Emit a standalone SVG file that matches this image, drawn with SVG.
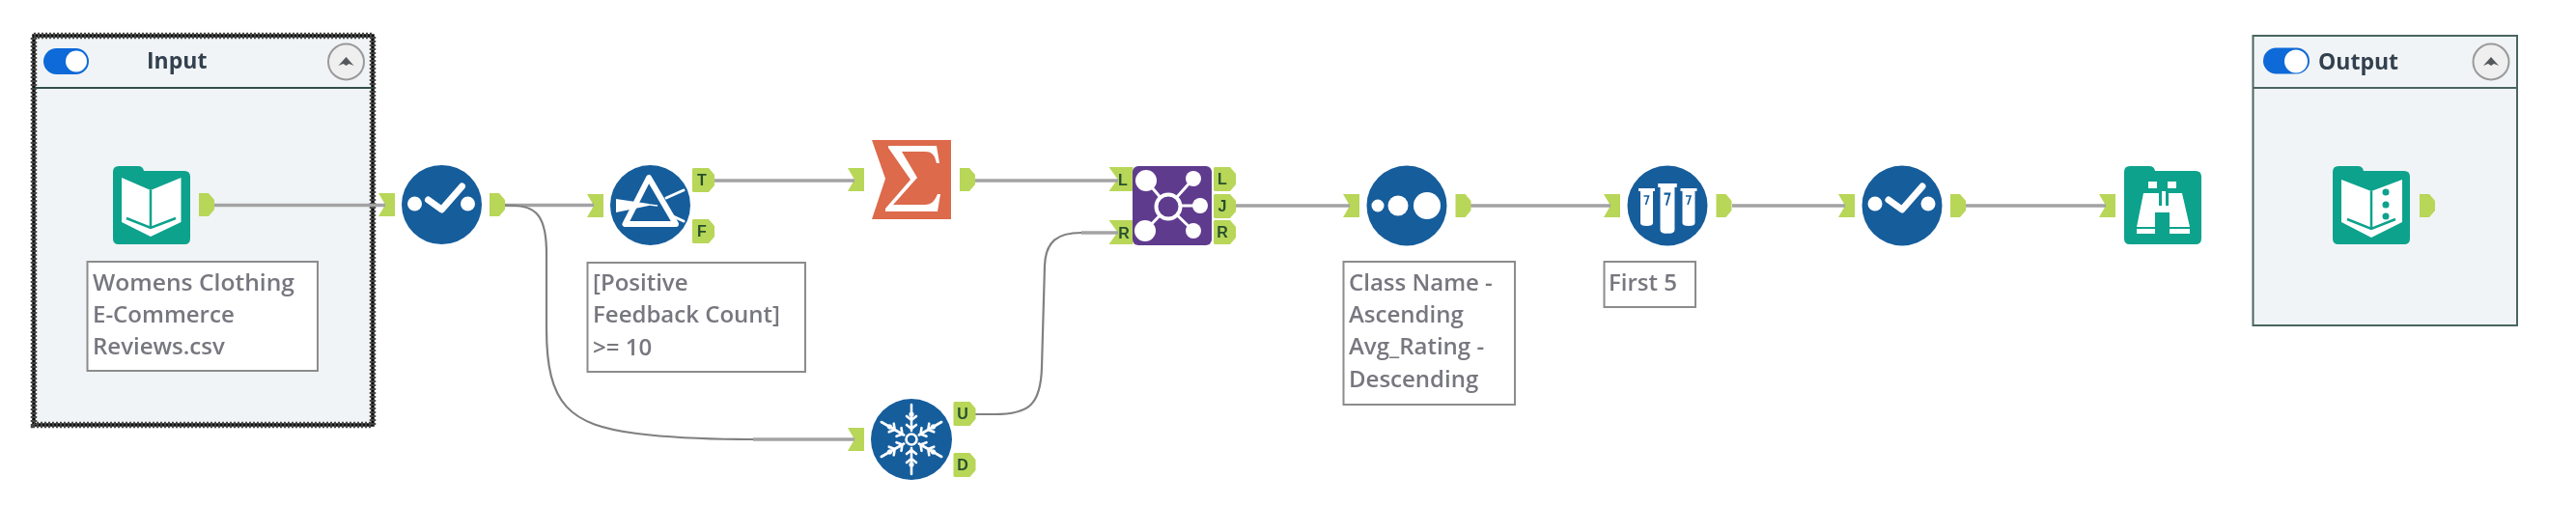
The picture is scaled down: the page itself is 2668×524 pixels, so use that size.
<svg xmlns="http://www.w3.org/2000/svg" width="2668" height="524" viewBox="0 0 2668 524">
<style>
.lbl{fill:#fff;stroke:#8c8c8c;stroke-width:2}
.t{font-family:"Open Sans","Noto Sans","Liberation Sans",sans-serif;font-weight:600;font-size:24px;fill:#77777f}
.h{font-family:"Open Sans","Noto Sans","Liberation Sans",sans-serif;font-weight:700;font-size:23px;fill:#33414f}
.a{font-family:"Liberation Sans",sans-serif;font-weight:700;font-size:16px;fill:#27502f;text-anchor:middle}
.c{fill:none;stroke:#a3a3a3;stroke-width:3.5}
.cc{fill:none;stroke:#808080;stroke-width:2.2}
.anc{fill:#b8d658}
.blue{fill:#155d9c}
.teal{fill:#0aa28c}
.w{fill:#fff}
.ws{fill:none;stroke:#fff;stroke-linecap:round;stroke-linejoin:round}
.box{fill:#f1f4f6}
</style>
<defs>
<filter id="soft" x="0" y="0" width="100%" height="100%"><feGaussianBlur stdDeviation="0.6"/></filter>
<path id="out" class="anc" d="M0 0H10L16 7V17L10 24H0Z"/>
<path id="outL" class="anc" d="M1 0H17L23 7V18L17 25H1L0 24V1Z"/>
<path id="in" class="anc" d="M0 0H17V24H0L7 12Z"/>
<path id="inL" class="anc" d="M0 0H25V25H0L9 12.500Z"/>
<path id="folder" class="teal" d="M0 6Q0 0 6 0H26Q31 0 32 5H74Q80 5 80 11V75Q80 81 74 81H6Q0 81 0 75Z"/>
<g id="btn">
<circle r="18.500" fill="#efefef" stroke="#9a9a9a" stroke-width="2"/>
<path d="M-8 4L0-5L8 4L3 2L0 4L-3 2Z" fill="#55585c"/>
</g>
<g id="chk">
<circle cx="-28" cy="-1" r="7.500" class="w"/>
<circle cx="27" cy="-1" r="7.500" class="w"/>
<path class="ws" stroke-width="7" d="M-14-5L0 5L21-19"/>
</g>
<g id="arm">
<path class="ws" stroke-width="2.600" d="M0-9V-36M-5-15L0-11L5-15M-5-24L0-20L5-24"/>
<circle cy="-26" r="2.600" class="w"/>
</g>
<g id="tube">
<path class="w" d="M-8.500 0H8.500V3H6.500V36Q6.500 39 0 39Q-6.500 39-6.500 36V3H-8.500Z"/>
<path d="M-3 8H2L-1 17" fill="none" stroke="#155d9c" stroke-width="1.600"/>
</g>
</defs>

<g filter="url(#soft)">
<rect width="2668" height="524" fill="#fff"/>
<g id="input-container">
<rect class="box" x="35" y="37" width="351" height="403"/>
<rect x="35" y="37" width="351" height="403" fill="none" stroke="#111" stroke-width="3.500"/>
<rect x="35" y="37" width="351" height="403" fill="none" stroke="#444" stroke-width="6.500" stroke-dasharray="2 2"/>
<path d="M36 91H385" stroke="#33504a" stroke-width="2"/>
<rect x="45" y="50" width="47" height="27" rx="13.500" fill="#0f6ad8"/>
<circle cx="79" cy="63.500" r="11" class="w"/>
<text class="h" x="152" y="71">Input</text>
<use href="#btn" x="358.500" y="64"/>
</g>

<g id="output-container">
<rect class="box" x="2333.500" y="37" width="273.500" height="300" stroke="#4a6660" stroke-width="2"/>
<path d="M2334 91H2607" stroke="#4a6660" stroke-width="2"/>
<rect x="2344" y="49.500" width="48" height="27" rx="13.500" fill="#0f6ad8"/>
<circle cx="2378" cy="63.500" r="12" class="w"/>
<text class="h" x="2401" y="72">Output</text>
<use href="#btn" x="2580" y="64"/>
</g>

<g id="tools-under">
<use href="#in" x="392" y="200"/>
<use href="#in" x="608" y="201"/>
<use href="#in" x="878" y="174"/>
<use href="#in" x="878" y="443"/>
<use href="#inL" x="1148.500" y="173"/>
<use href="#inL" x="1148.500" y="228"/>
<use href="#in" x="1391" y="201"/>
<use href="#in" x="1661" y="201"/>
<use href="#in" x="1904" y="201"/>
<use href="#in" x="2174" y="201"/>
</g>

<g id="connectors">
<path class="c" d="M222 212.500H399"/>
<path class="c" d="M523 212.500H615"/>
<path class="cc" d="M523 212.500C552 212.500 566 218 566 262V340C566 420 590 440 660 449C700 454 740 455 780 455"/>
<path class="c" d="M780 455H885"/>
<path class="c" d="M740 187H885"/>
<path class="c" d="M1010 187H1158"/>
<path class="cc" d="M1010 429H1030C1065 429 1078 420 1079 380L1082 275C1083 250 1095 241 1120 241"/>
<path class="c" d="M1120 241H1158"/>
<path class="c" d="M1280 213H1398"/>
<path class="c" d="M1523 213H1668"/>
<path class="c" d="M1794 213H1911"/>
<path class="c" d="M2035 213H2181"/>
</g>

<g id="input-tool">
<use href="#folder" x="117" y="172"/>
<path class="w" d="M126 184L156 197L187.500 184V230L156 245L126 230Z"/>
<path d="M156 197V236M131 226L156 236L182 226" fill="none" stroke="#0aa28c" stroke-width="2.500"/>
<use href="#out" x="206" y="200"/>
</g>
<g id="input-label">
<rect class="lbl" x="90.500" y="271" width="238.500" height="113"/>
<text class="t" x="96" y="301" textLength="209" lengthAdjust="spacingAndGlyphs">Womens Clothing</text>
<text class="t" x="96" y="334">E-Commerce</text>
<text class="t" x="96" y="367">Reviews.csv</text>
</g>

<g id="select-1">
<ellipse class="blue" cx="457.500" cy="212" rx="41.500" ry="41"/>
<use href="#chk" x="457.500" y="212"/>
<use href="#out" x="507" y="200"/>
</g>

<g id="filter">
<circle class="blue" cx="673.500" cy="212.500" r="41.500"/>
<path class="ws" stroke-width="6" d="M672 184L647.500 232H700Z"/>
<path class="w" d="M638 206L672 211L672 213L638 220Z"/>
<path d="M672 212L681 213" stroke="#fff" stroke-width="1.500"/>
<path class="ws" stroke-width="3" d="M690 205L708 197M695 223L708 229"/>
<use href="#outL" x="717" y="174"/>
<use href="#outL" x="717" y="227"/>
<text class="a" x="727" y="192">T</text>
<text class="a" x="727" y="245">F</text>
</g>
<g id="filter-label">
<rect class="lbl" x="608.500" y="272" width="225.500" height="113"/>
<text class="t" x="614" y="301">[Positive</text>
<text class="t" x="614" y="334" textLength="194" lengthAdjust="spacingAndGlyphs">Feedback Count]</text>
<text class="t" x="614" y="368">&gt;= 10</text>
</g>

<g id="summarize">
<path d="M903 145H985V227H903L917 185Z" fill="#dc6a4b"/>
<path class="w" d="M920 151H970L973 169H970C968 160 965 157 958 157H934L950 184L925 212H958C965 212 968 208 971 201H974L971 219H917V216L943 186L920 153Z"/>
<use href="#out" x="994" y="174"/>
</g>

<g id="unique">
<circle class="blue" cx="944" cy="455" r="42"/>
<circle cx="944" cy="455" r="5.500" fill="none" stroke="#fff" stroke-width="2.600"/>
<use href="#arm" transform="translate(944 455)"/>
<use href="#arm" transform="translate(944 455) rotate(60)"/>
<use href="#arm" transform="translate(944 455) rotate(120)"/>
<use href="#arm" transform="translate(944 455) rotate(180)"/>
<use href="#arm" transform="translate(944 455) rotate(240)"/>
<use href="#arm" transform="translate(944 455) rotate(300)"/>
<use href="#outL" x="987.500" y="416"/>
<use href="#outL" x="987.500" y="469"/>
<text class="a" x="997" y="434">U</text>
<text class="a" x="997" y="487">D</text>
</g>

<g id="join">
<text class="a" x="1163" y="192">L</text>
<text class="a" x="1164" y="247">R</text>
<rect x="1173" y="172" width="82" height="82" rx="6" fill="#5f3a8e"/>
<path d="M1187 187L1210 214M1186 239L1210 214M1236 185L1210 214M1243 213H1210M1236 239L1210 214" stroke="#fff" stroke-width="3"/>
<circle cx="1210" cy="214" r="12.500" fill="#5f3a8e" stroke="#fff" stroke-width="4"/>
<circle cx="1187" cy="187" r="11" class="w"/>
<circle cx="1186" cy="239" r="11" class="w"/>
<circle cx="1236" cy="185" r="8" class="w"/>
<circle cx="1243" cy="213" r="8" class="w"/>
<circle cx="1236" cy="239" r="8" class="w"/>
<use href="#outL" x="1257" y="173"/>
<use href="#outL" x="1257" y="201"/>
<use href="#outL" x="1257" y="228"/>
<text class="a" x="1266" y="191">L</text>
<text class="a" x="1266" y="219">J</text>
<text class="a" x="1266" y="246">R</text>
</g>

<g id="sort">
<circle class="blue" cx="1457" cy="213" r="41.500"/>
<circle cx="1427" cy="213" r="6.500" class="w"/>
<circle cx="1448" cy="213" r="10.500" class="w"/>
<circle cx="1478" cy="213" r="14" class="w"/>
<use href="#out" x="1507.500" y="201"/>
</g>
<g id="sort-label">
<rect class="lbl" x="1391.500" y="271" width="177.500" height="148"/>
<text class="t" x="1397" y="301">Class Name -</text>
<text class="t" x="1397" y="334">Ascending</text>
<text class="t" x="1397" y="367">Avg_Rating -</text>
<text class="t" x="1397" y="401">Descending</text>
</g>

<g id="sample">
<circle class="blue" cx="1727" cy="213" r="41.500"/>
<use href="#tube" x="1705.500" y="195"/>
<use href="#tube" transform="translate(1727 190) scale(1.150 1.330)"/>
<use href="#tube" x="1749" y="195"/>
<use href="#out" x="1777.500" y="201"/>
</g>
<g id="sample-label">
<rect class="lbl" x="1661.500" y="271" width="94.500" height="47"/>
<text class="t" x="1666" y="301">First 5</text>
</g>

<g id="select-2">
<circle class="blue" cx="1970" cy="213" r="41.500"/>
<use href="#chk" x="1970" y="212"/>
<use href="#out" x="2020" y="201"/>
</g>

<g id="browse">
<use href="#folder" x="2200" y="172"/>
<path class="w" d="M2225 188H2234V195H2225ZM2245 188H2254V195H2245ZM2220 200H2236V220H2232V235H2213ZM2260 200H2246V220H2247V235H2268ZM2213 237H2232V242H2213ZM2247 237H2268V242H2247ZM2235 213H2246V220H2235ZM2239 198H2243V213H2239Z"/>
</g>

<g id="output-tool">
<use href="#folder" x="2416" y="172"/>
<path class="w" d="M2425 186L2456 198L2488 186V230L2456 246L2425 230Z"/>
<path d="M2456 198V237M2431 227L2456 237L2481 227" fill="none" stroke="#0aa28c" stroke-width="2.500"/>
<circle cx="2471" cy="199" r="3.500" fill="#0aa28c"/>
<circle cx="2471" cy="212" r="3.500" fill="#0aa28c"/>
<circle cx="2471" cy="224" r="3.500" fill="#0aa28c"/>
<use href="#out" x="2506" y="201"/>
</g>
</g>
</svg>
